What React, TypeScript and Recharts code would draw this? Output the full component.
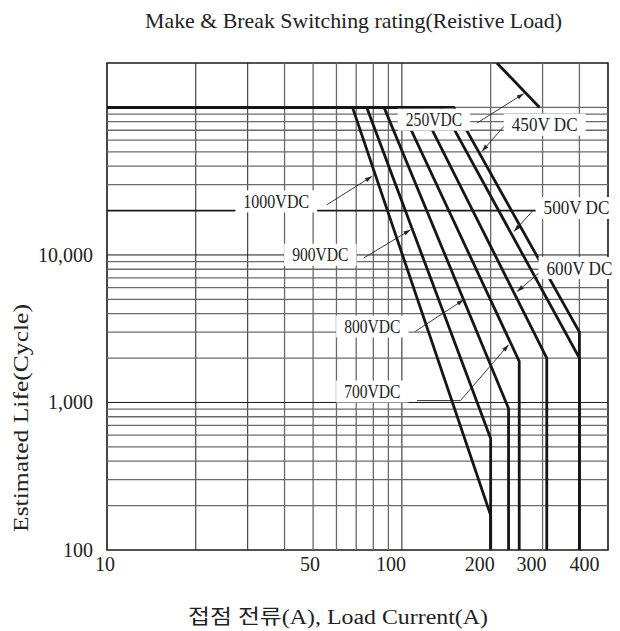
import React from 'react';
import { LineChart, Line, XAxis, YAxis, ReferenceLine, ReferenceDot, ReferenceArea } from 'recharts';

const FONT = "'Liberation Serif', 'Noto Sans CJK KR', serif";

// ---- axes ----
const xTicks = [10, 50, 100, 200, 300, 400];
const yTicks = [100, 1000, 10000];
const xGrid = [20, 30, 40, 50, 60, 70, 80, 90, 100, 200, 300, 400];
const yGrid = [
  200, 300, 400, 500, 600, 700, 800, 900, 1000,
  2000, 3000, 4000, 5000, 6000, 7000, 8000, 9000, 10000,
  20000, 30000, 40000, 50000, 60000, 70000, 80000, 90000, 100000,
];
const darkX = [20, 30, 100];
const darkY = [1000, 10000, 20000];

// ---- rating curves (current A, life cycles) ----
const current1000 = [10, 68, 200, 200];
const life1000 = [100000, 100000, 172, 100];
const current900 = [10, 76, 200, 200];
const life900 = [100000, 100000, 570, 100];
const current800 = [10, 87, 230, 230];
const life800 = [100000, 100000, 910, 100];
const current700 = [10, 99, 250, 250];
const life700 = [100000, 100000, 1900, 100];
const current600 = [10, 116, 310, 310];
const life600 = [100000, 100000, 2000, 100];
const current500 = [10, 137, 400, 400];
const life500 = [100000, 100000, 2000, 100];
const current450 = [10, 150, 400, 400];
const life450 = [100000, 100000, 3000, 100];
const current250 = [210, 293];
const life250 = [200000, 100000];

// ---- labels ----
const labelText = ['250VDC', '450V DC', '1000VDC', '900VDC', '500V DC', '600V DC', '800VDC', '700VDC'];
const labelCurrent = [128.5, 305, 37.5, 52.9, 391, 400, 79.4, 79.4];
const labelLife = [82600, 76400, 23070, 10030, 20800, 8150, 3270, 1186];

// ---- leader lines ----
const lead250Current = [180, 259];
const lead250Life = [78500, 124000];
const lead450Current = [222, 187];
const lead450Life = [74500, 50400];
const lead1000Current = [55.7, 79.2];
const lead1000Life = [21900, 34100];
const lead900Current = [74.2, 107];
const lead900Life = [9530, 14800];
const lead800Current = [111, 162];
const lead800Life = [3030, 4970];
const lead700Current = [112.6, 158, 230];
const lead700Life = [1030, 1030, 2460];
const lead600Current = [303, 246];
const lead600Life = [8050, 5650];
const lead500Current = [280, 240];
const lead500Life = [20260, 14430];

const zip = (xs: number[], ys: number[]) => xs.map((x, i) => ({ x, y: ys[i] }));

const curves = [
  zip(current1000, life1000),
  zip(current900, life900),
  zip(current800, life800),
  zip(current700, life700),
  zip(current600, life600),
  zip(current500, life500),
  zip(current450, life450),
  zip(current250, life250),
];

const leaders = [
  zip(lead250Current, lead250Life),
  zip(lead450Current, lead450Life),
  zip(lead1000Current, lead1000Life),
  zip(lead900Current, lead900Life),
  zip(lead800Current, lead800Life),
  zip(lead700Current, lead700Life),
  zip(lead600Current, lead600Life),
  zip(lead500Current, lead500Life),
];

const xNudge: Record<number, number> = { 10: -2, 50: -3, 100: -11, 200: -11, 300: -11, 400: 5 };

const XTick = (props: any) => {
  const { x, y, payload } = props;
  const v = payload.value;
  return (
    <text x={x + (xNudge[v] || 0)} y={y + 13} textAnchor="middle" fontFamily={FONT} fontSize={20} fill="#222">
      {String(v)}
    </text>
  );
};

const YTick = (props: any) => {
  const { x, y, payload } = props;
  return (
    <text x={x - 6} y={y} dy="0.35em" textAnchor="end" fontFamily={FONT} fontSize={20} fill="#222">
      {Number(payload.value).toLocaleString('en-US')}
    </text>
  );
};

const arrowDot = (props: any) => {
  const { index, points, cx, cy } = props;
  if (!points || index !== points.length - 1 || index < 1) return <g key={`d-${index}`} />;
  const p = points[index - 1];
  const ang = Math.atan2(cy - p.y, cx - p.x);
  const L = 7;
  const W = 2.2;
  const bx = cx - L * Math.cos(ang);
  const by = cy - L * Math.sin(ang);
  const nx = -Math.sin(ang) * W;
  const ny = Math.cos(ang) * W;
  return (
    <path
      key={`d-${index}`}
      d={`M${cx},${cy} L${bx + nx},${by + ny} L${bx - nx},${by - ny} Z`}
      fill="#222"
    />
  );
};

const makeLabelShape = (text: string) => (props: any) => {
  const { cx, cy } = props;
  const tw = text.length * 9.4;
  const w = tw + 16;
  return (
    <g>
      <rect x={cx - w / 2} y={cy - 11} width={w} height={22} fill="#fff" />
      <text
        x={cx}
        y={cy}
        dy="0.36em"
        textAnchor="middle"
        fontFamily={FONT}
        fontSize={18}
        textLength={tw}
        lengthAdjust="spacingAndGlyphs"
        fill="#222"
      >
        {text}
      </text>
    </g>
  );
};

export default function App() {
  return (
    <div style={{ position: 'absolute', left: 0, top: 0, width: 620, height: 631, background: '#fff' }}>
      <LineChart width={620} height={631} margin={{ top: 63, right: 12, bottom: 51, left: 47 }}>
        <XAxis
          type="number"
          dataKey="x"
          scale="log"
          domain={[10, 500]}
          ticks={xTicks}
          interval={0}
          allowDataOverflow
          axisLine={false}
          tickLine={false}
          tick={XTick}
          height={30}
        />
        <YAxis
          type="number"
          dataKey="y"
          scale="log"
          domain={[100, 200000]}
          ticks={yTicks}
          interval={0}
          allowDataOverflow
          axisLine={false}
          tickLine={false}
          tick={YTick}
          width={60}
        />
        {xGrid.map((v) => (
          <ReferenceLine
            key={`gx-${v}`}
            x={v}
            stroke={darkX.includes(v) ? '#222' : '#6a6a6a'}
            strokeWidth={darkX.includes(v) ? 1 : 1.3}
          />
        ))}
        {yGrid.map((v) => (
          <ReferenceLine
            key={`gy-${v}`}
            y={v}
            stroke={darkY.includes(v) ? '#1a1a1a' : '#6a6a6a'}
            strokeWidth={v === 20000 ? 1.8 : darkY.includes(v) ? 1 : 1.3}
          />
        ))}
        {curves.map((d, i) => (
          <Line
            key={`c-${i}`}
            data={d}
            dataKey="y"
            type="linear"
            stroke="#161616"
            strokeWidth={2.8}
            dot={false}
            activeDot={false}
            isAnimationActive={false}
          />
        ))}
        <ReferenceArea x1={10} x2={500} y1={100} y2={200000} fill="none" fillOpacity={0} stroke="#1a1a1a" strokeWidth={1.6} />
        {labelText.map((t, i) => (
          <ReferenceDot
            key={`lab-${i}`}
            x={labelCurrent[i]}
            y={labelLife[i]}
            r={1}
            shape={makeLabelShape(t)}
          />
        ))}
        {leaders.map((d, i) => (
          <Line
            key={`l-${i}`}
            data={d}
            dataKey="y"
            type="linear"
            stroke="#222"
            strokeWidth={0.9}
            dot={arrowDot}
            activeDot={false}
            isAnimationActive={false}
          />
        ))}
      </LineChart>
      <svg width={620} height={631} style={{ position: 'absolute', left: 0, top: 0, pointerEvents: 'none' }}>
        <text x={353.5} y={28} textAnchor="middle" fontFamily={FONT} fontSize={21} fill="#222" textLength={417} lengthAdjust="spacingAndGlyphs">
          Make &amp; Break Switching rating(Reistive Load)
        </text>
        <text x={338} y={624} textAnchor="middle" fontFamily={FONT} fontSize={20} fill="#222" textLength={300} lengthAdjust="spacingAndGlyphs">
          접점 전류(A), Load Current(A)
        </text>
        <text
          x={28}
          y={418}
          transform="rotate(-90, 28, 418)"
          textAnchor="middle"
          fontFamily={FONT}
          fontSize={20}
          fill="#222"
          textLength={228}
          lengthAdjust="spacingAndGlyphs"
        >
          Estimated Life(Cycle)
        </text>
      </svg>
    </div>
  );
}
